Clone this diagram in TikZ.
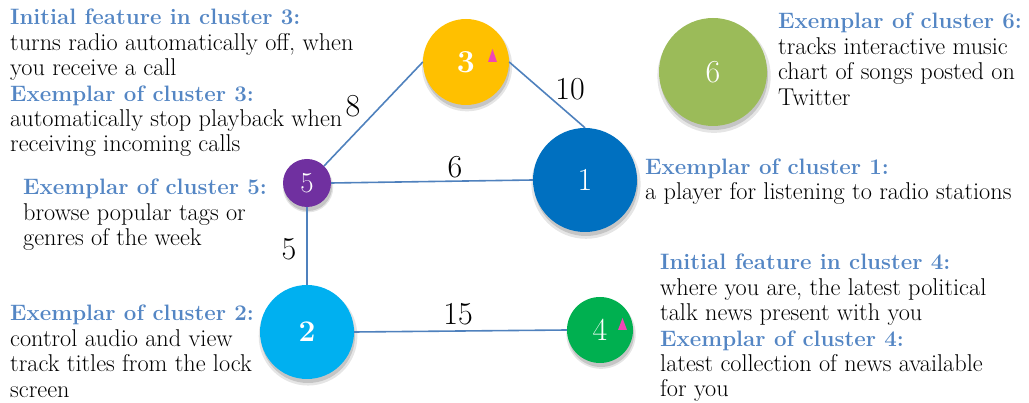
\documentclass[tikz,border=0pt]{standalone}
\usepackage{fontspec}
\usetikzlibrary{shadows,calc}
\definecolor{cthree}{HTML}{FFC000}
\definecolor{cone}{HTML}{0070C0}
\definecolor{cfive}{HTML}{7030A0}
\definecolor{ctwo}{HTML}{00B0F0}
\definecolor{cfour}{HTML}{00B050}
\definecolor{csix}{HTML}{9BBB59}
\definecolor{edgeblue}{HTML}{4F81BD}
\definecolor{headblue}{HTML}{5486C4}
\definecolor{tripink}{RGB}{240,70,180}
\newcommand{\clhead}[1]{{\color{headblue}\bfseries\fontsize{22.3}{25.4}\selectfont #1}}
\tikzset{
  cnode/.style={circle, inner sep=0pt, minimum size=#1, text=white,
    font=\fontsize{32}{32}\selectfont,
    drop shadow={shadow xshift=1pt, shadow yshift=-4pt, opacity=.10, fill=black, shadow scale=1.05},
    drop shadow={shadow xshift=1pt, shadow yshift=-4pt, opacity=.14, fill=black, shadow scale=1.0}},
  link/.style={draw=edgeblue, line width=1.6pt},
  wlabel/.style={inner sep=0pt, font=\fontsize{32}{32}\selectfont},
  tblock/.style={anchor=north west, inner sep=0pt, align=left,
    font=\fontsize{24.3}{25.4}\selectfont, execute at begin node={\rule{0pt}{17pt}}},
  tri/.style={fill=tripink}
}
\begin{document}
\begin{tikzpicture}[x=1pt,y=-1pt]
\useasboundingbox (0,0) rectangle (1029,403);
% circles
\node[cnode=86pt, fill=cthree, font=\bfseries\fontsize{32}{32}\selectfont] (c3) at (466,62) {3};
\node[cnode=104pt, fill=cone] (c1) at (585,180) {1};
\node[cnode=48pt, fill=cfive, font=\fontsize{29}{29}\selectfont] (c5) at (307,183) {5};
\node[cnode=94pt, fill=ctwo, font=\bfseries\fontsize{30}{30}\selectfont] (c2) at (307,332) {2};
\node[cnode=66pt, fill=cfour] (c4) at (600,330) {4};
\node[cnode=108pt, fill=csix] (c6) at (713,72) {6};
% triangles
\fill[tri] ($(c3.center)+(26.5,-13)$) -- ++(4.5,13) -- ++(-9,0) -- cycle;
\fill[tri] ($(c4.center)+(22.5,-12)$) -- ++(4.5,12) -- ++(-9,0) -- cycle;
% connectors
\draw[link] (c5.north east) -- (c3.west);
\draw[link] (c3.east) -- (c1.north);
\draw[link] (c5.east) -- (c1.west);
\draw[link] (c5.south) -- (c2.north);
\draw[link] (c2.east) -- (c4.west);
% weights
\node[wlabel] (w53) at (353,106) {8};
\node[wlabel] (w31) at (570,89) {10};
\node[wlabel] (w51) at (455,167) {6};
\node[wlabel] (w52) at (289,249) {5};
\node[wlabel] (w24) at (458,314) {15};
% text blocks
\node[tblock] (t3) at (10,9) {\clhead{Initial feature in cluster 3:}\\
turns radio automatically off, when\\
you receive a call\\
\clhead{Exemplar of cluster 3:}\\
automatically stop playback when\\
receiving incoming calls};
\node[tblock] (t5) at (23,179) {\clhead{Exemplar of cluster 5:}\\
browse popular tags or\\
genres of the week};
\node[tblock] (t2) at (10,305) {\clhead{Exemplar of cluster 2:}\\
control audio and view\\
track titles from the lock\\
screen};
\node[tblock] (t6) at (778,13) {\clhead{Exemplar of cluster 6:}\\
tracks interactive music\\
chart of songs posted on\\
Twitter};
\node[tblock, font=\fontsize{24.3}{24.5}\selectfont] (t1) at (645,159) {\clhead{Exemplar of cluster 1:}\\
a player for listening to radio stations};
\node[tblock] (t4) at (660,254) {\clhead{Initial feature in cluster 4:}\\
where you are, the latest political\\
talk news present with you\\
\clhead{Exemplar of cluster 4:}\\
latest collection of news available\\
for you};
\end{tikzpicture}
\end{document}
